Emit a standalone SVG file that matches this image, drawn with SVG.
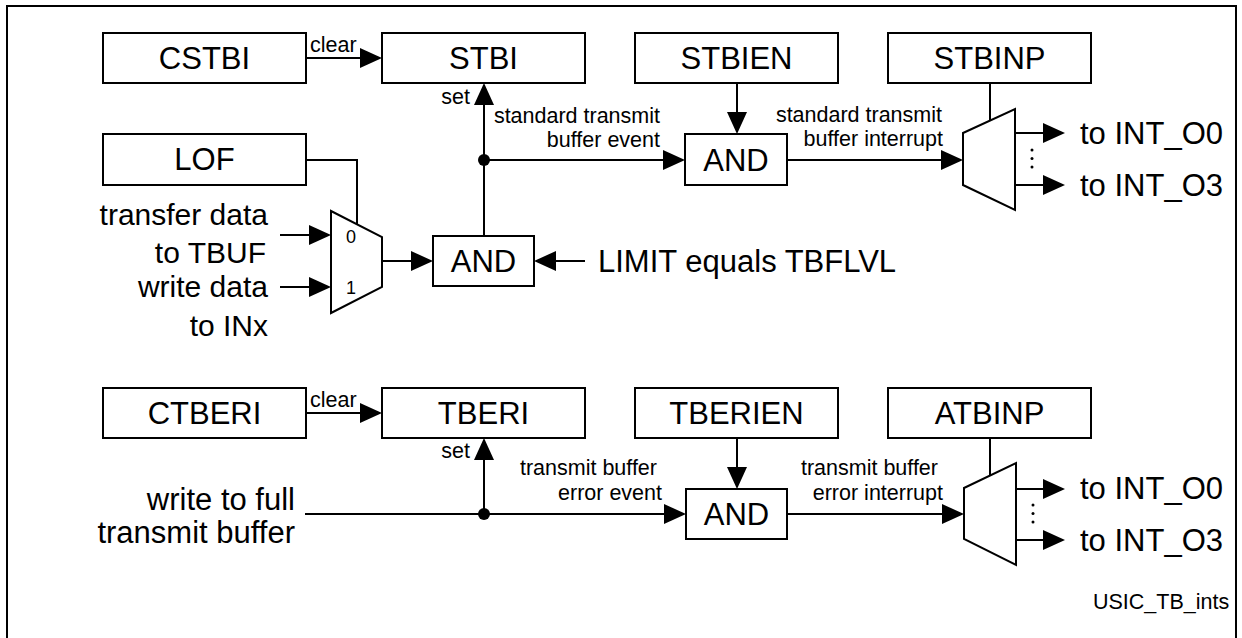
<svg xmlns="http://www.w3.org/2000/svg" width="1242" height="638" viewBox="0 0 1242 638">
<style>
.box{fill:#fff;stroke:#000;stroke-width:2}
.ln{fill:none;stroke:#000;stroke-width:2}
.ar{fill:none;stroke:#000;stroke-width:2;marker-end:url(#arr)}
.big{font-family:"Liberation Sans",Arial,sans-serif;font-size:31px;fill:#000}
.in{font-size:30px}
.sm{font-family:"Liberation Sans",Arial,sans-serif;font-size:21.5px;fill:#000}
.mid{text-anchor:middle}
.end{text-anchor:end}
</style>
<defs>
<marker id="arr" markerUnits="userSpaceOnUse" markerWidth="22" markerHeight="20" refX="20" refY="10" orient="auto">
<path d="M0,0 L22,10 L0,20 z" fill="#000"/>
</marker>
</defs>
<rect x="0" y="0" width="1242" height="638" fill="#fff"/>
<path class="ln" d="M7,645 V6 H1236 V645"/>

<g id="connectors">
<path class="ar" d="M306,58 H380"/>
<path class="ln" d="M306,160 H357 V224"/>
<path class="ar" d="M280,235 H329"/>
<path class="ar" d="M280,287 H329"/>
<path class="ar" d="M382,261 H431"/>
<path class="ar" d="M585,261 H536"/>
<path class="ar" d="M484,236 V85"/>
<path class="ar" d="M484,160 H683"/>
<circle cx="484" cy="160" r="6" fill="#000"/>
<path class="ar" d="M737,83 V132"/>
<path class="ar" d="M787,160 H961"/>
<path class="ln" d="M990,83 V121"/>
<path class="ar" d="M1015,133 H1063"/>
<path class="ar" d="M1015,185 H1063"/>
<circle cx="1032" cy="150" r="1.5" fill="#000"/>
<circle cx="1032" cy="158.5" r="1.5" fill="#000"/>
<circle cx="1032" cy="167" r="1.5" fill="#000"/>
<path class="ar" d="M306,413 H380"/>
<path class="ar" d="M305,514 H684"/>
<path class="ar" d="M484,514 V440"/>
<circle cx="484" cy="514" r="6" fill="#000"/>
<path class="ar" d="M737,438 V487"/>
<path class="ar" d="M787,514 H962"/>
<path class="ln" d="M990,438 V476"/>
<path class="ar" d="M1016,489 H1063"/>
<path class="ar" d="M1016,540 H1063"/>
<circle cx="1033" cy="505" r="1.5" fill="#000"/>
<circle cx="1033" cy="513.5" r="1.5" fill="#000"/>
<circle cx="1033" cy="522" r="1.5" fill="#000"/>
</g>

<g id="labels">
<text class="sm" x="310" y="52">clear</text>
<text class="sm end" x="470" y="104">set</text>
<text class="sm end" x="660" y="123">standard transmit</text>
<text class="sm end" x="660" y="147">buffer event</text>
<text class="sm end" x="942" y="122">standard transmit</text>
<text class="sm end" x="943" y="146">buffer interrupt</text>
<text class="big in end" x="268" y="225">transfer data</text>
<text class="big in end" x="266" y="263">to TBUF</text>
<text class="big in end" x="268" y="297">write data</text>
<text class="big in end" x="268" y="336">to INx</text>
<text class="big" x="598" y="272">LIMIT equals TBFLVL</text>
<text class="big" x="1080" y="144">to INT_O0</text>
<text class="big" x="1080" y="196">to INT_O3</text>
<text class="sm" x="310" y="407">clear</text>
<text class="sm end" x="470" y="458">set</text>
<text class="sm end" x="657" y="475">transmit buffer</text>
<text class="sm end" x="662" y="500">error event</text>
<text class="sm end" x="938" y="475">transmit buffer</text>
<text class="sm end" x="943" y="500">error interrupt</text>
<text class="big end" x="295" y="510">write to full</text>
<text class="big end" x="295" y="543">transmit buffer</text>
<text class="big" x="1080" y="499">to INT_O0</text>
<text class="big" x="1080" y="551">to INT_O3</text>
<text class="sm" x="1093" y="609">USIC_TB_ints</text>
</g>

<g id="CSTBI"><rect class="box" x="103" y="33" width="203" height="50"/><text class="big mid" x="204.5" y="69">CSTBI</text></g>
<g id="STBI"><rect class="box" x="382" y="33" width="203" height="50"/><text class="big mid" x="483.5" y="69">STBI</text></g>
<g id="STBIEN"><rect class="box" x="635" y="33" width="203" height="50"/><text class="big mid" x="736.5" y="69">STBIEN</text></g>
<g id="STBINP"><rect class="box" x="888" y="33" width="203" height="50"/><text class="big mid" x="989.5" y="69">STBINP</text></g>
<g id="LOF"><rect class="box" x="103" y="134" width="203" height="51"/><text class="big mid" x="204.5" y="170">LOF</text></g>
<g id="MUX1"><polygon class="box" points="331,211 382,237 382,287 331,313"/><text class="sm mid" x="351" y="243" style="font-size:18px">0</text><text class="sm mid" x="351" y="294" style="font-size:18px">1</text></g>
<g id="AND1"><rect class="box" x="433" y="236" width="101" height="50"/><text class="big mid" x="483.5" y="272">AND</text></g>
<g id="AND2"><rect class="box" x="685" y="134" width="102" height="51"/><text class="big mid" x="736" y="171">AND</text></g>
<g id="MUX2"><polygon class="box" points="963,133 1015,109 1015,210 963,185"/></g>

<g id="CTBERI"><rect class="box" x="103" y="388" width="203" height="50"/><text class="big mid" x="204.5" y="424">CTBERI</text></g>
<g id="TBERI"><rect class="box" x="382" y="388" width="203" height="50"/><text class="big mid" x="483.5" y="424">TBERI</text></g>
<g id="TBERIEN"><rect class="box" x="635" y="388" width="203" height="50"/><text class="big mid" x="736.5" y="424">TBERIEN</text></g>
<g id="ATBINP"><rect class="box" x="888" y="388" width="203" height="50"/><text class="big mid" x="989.5" y="424">ATBINP</text></g>
<g id="AND3"><rect class="box" x="686" y="489" width="101" height="50"/><text class="big mid" x="736.5" y="525">AND</text></g>
<g id="MUX3"><polygon class="box" points="964,488 1016,463 1016,565 964,539"/></g>
</svg>
